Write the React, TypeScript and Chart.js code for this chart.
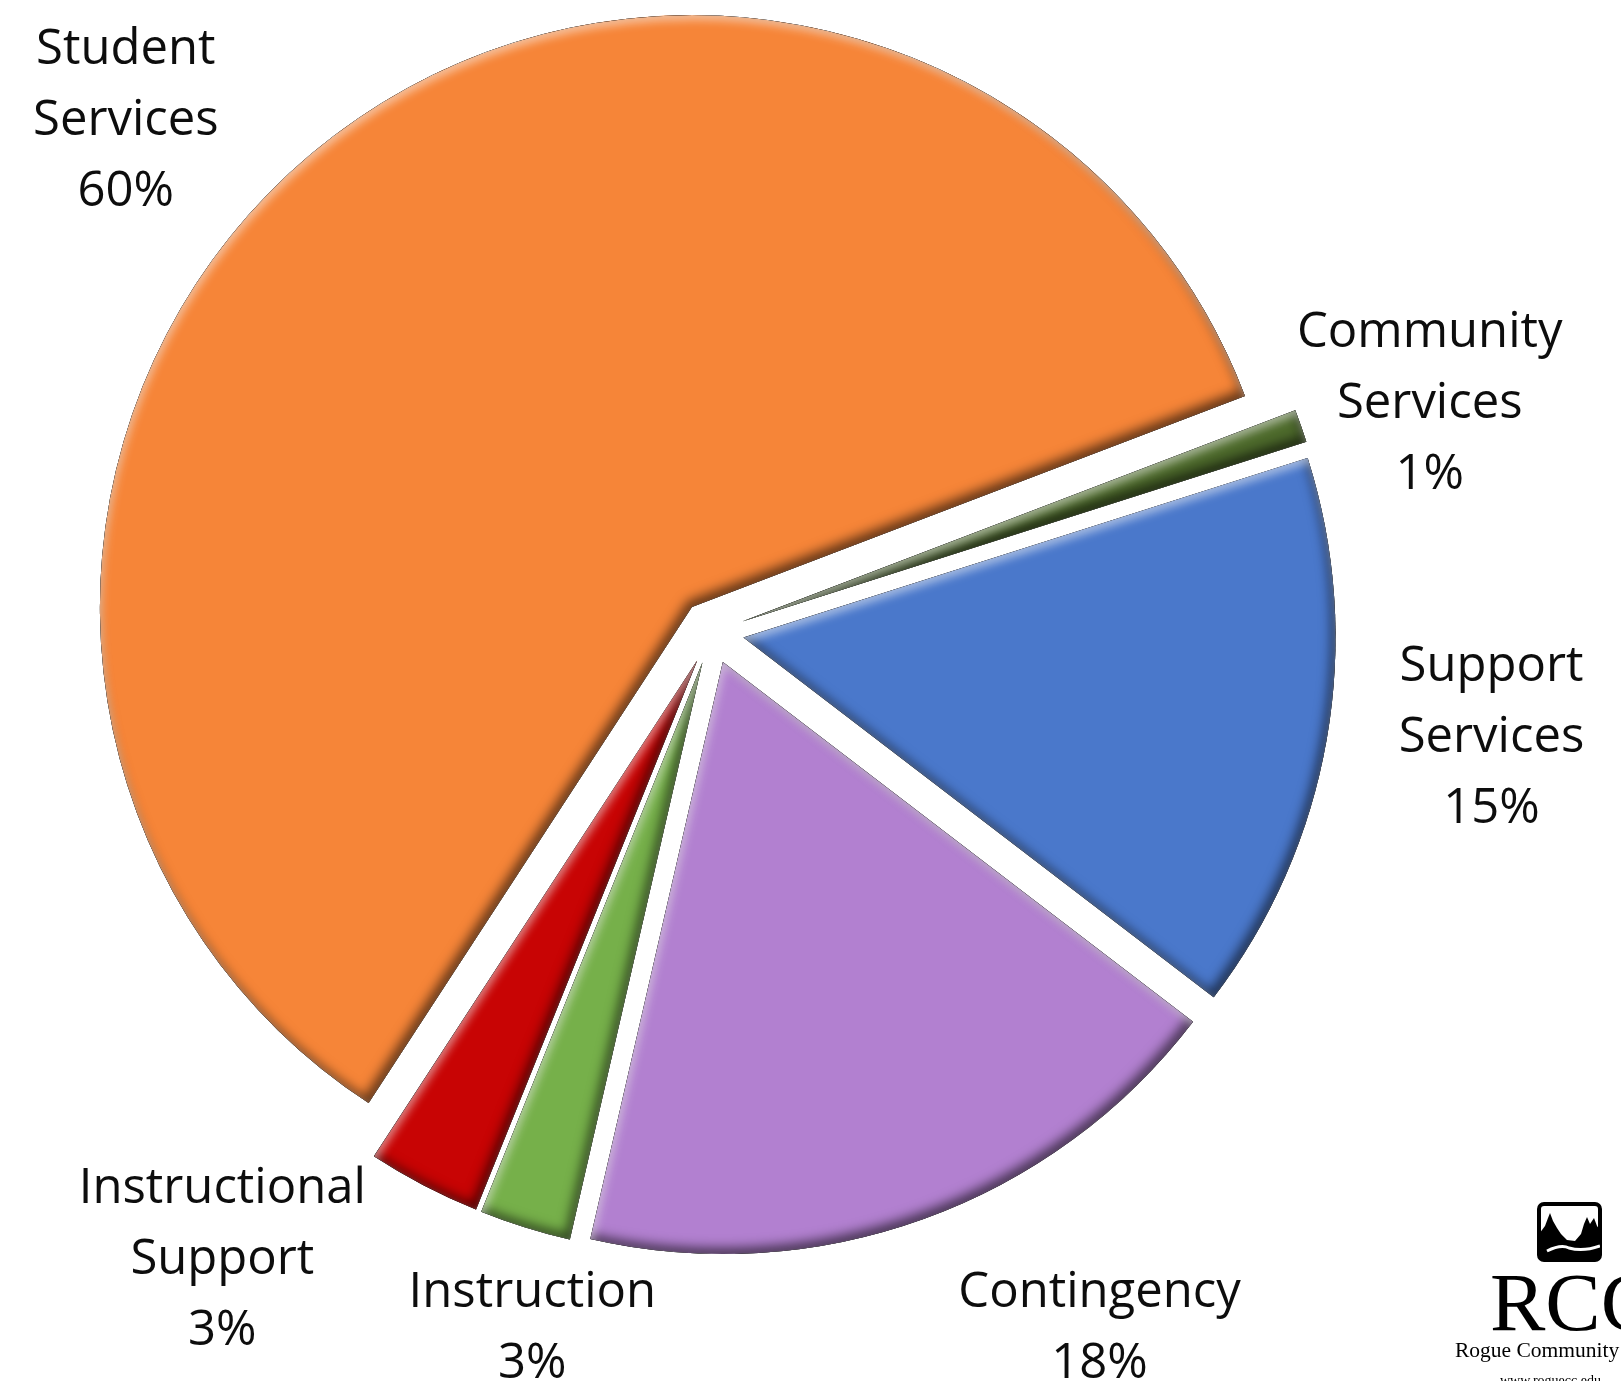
import React, { useEffect, useRef } from "react";
import { Chart, registerables } from "chart.js";

Chart.register(...registerables);

// ---- data ----
const categories = [
  "Student Services",
  "Community Services",
  "Support Services",
  "Contingency",
  "Instruction",
  "Instructional Support",
];
const labelLines = [
  ["Student", "Services"],
  ["Community", "Services"],
  ["Support", "Services"],
  ["Contingency"],
  ["Instruction"],
  ["Instructional", "Support"],
];
const shares = [60.0, 0.9, 15.3, 18.2, 2.5, 3.1];
const sliceColors = ["#F68538", "#4E6B2C", "#4A78CB", "#B280D0", "#76B04A", "#C80404"];

// label placement relative to each slice's bisector (degrees shift, radius ratio)
const labelAngleShift = [-9.8, 1.4, -2.4, -9.4, -2.9, 10.6];
const labelRadiusRatio = [1.318, 1.274, 1.328, 1.341, 1.209, 1.34];

const EXPLODE = 32;
const RADIUS = 592;
const FONT = '49px "Open Sans", "DejaVu Sans", sans-serif';
const LINE_H = 71;

function arcPath(ctx: CanvasRenderingContext2D, a: any) {
  ctx.moveTo(a.x, a.y);
  ctx.arc(a.x, a.y, a.outerRadius, a.startAngle, a.endAngle);
  ctx.closePath();
}

function innerShadow(
  ctx: CanvasRenderingContext2D,
  a: any,
  color: string,
  blur: number,
  dx: number,
  dy: number
) {
  ctx.save();
  ctx.beginPath();
  arcPath(ctx, a);
  ctx.clip();
  ctx.beginPath();
  ctx.rect(a.x - 3000, a.y - 3000, 6000, 6000);
  arcPath(ctx, a);
  ctx.shadowColor = color;
  ctx.shadowBlur = blur;
  ctx.shadowOffsetX = dx;
  ctx.shadowOffsetY = dy;
  ctx.fillStyle = "#000";
  ctx.fill("evenodd");
  ctx.restore();
}

const explodePlugin = {
  id: "explodeSlices",
  afterUpdate(chart: any) {
    const meta = chart.getDatasetMeta(0);
    meta.data.forEach((arc: any) => {
      const mid = (arc.startAngle + arc.endAngle) / 2;
      arc.x += Math.cos(mid) * EXPLODE;
      arc.y += Math.sin(mid) * EXPLODE;
    });
  },
};

const bevelPlugin = {
  id: "bevel",
  afterDatasetsDraw(chart: any) {
    const ctx = chart.ctx as CanvasRenderingContext2D;
    const meta = chart.getDatasetMeta(0);
    meta.data.forEach((arc: any) => {
      innerShadow(ctx, arc, "rgba(0,0,0,0.6)", 12, -4, -6);
      innerShadow(ctx, arc, "rgba(255,255,255,0.5)", 8, 2, 5);
    });
  },
};

const labelPlugin = {
  id: "sliceLabels",
  afterDraw(chart: any) {
    const ctx = chart.ctx as CanvasRenderingContext2D;
    const meta = chart.getDatasetMeta(0);
    const ca = chart.chartArea;
    const cx = (ca.left + ca.right) / 2;
    const cy = (ca.top + ca.bottom) / 2;
    const total = shares.reduce((s, v) => s + v, 0);
    ctx.save();
    ctx.font = FONT;
    ctx.fillStyle = "#0d0d0d";
    ctx.textAlign = "center";
    ctx.textBaseline = "alphabetic";
    meta.data.forEach((arc: any, i: number) => {
      const mid = (arc.startAngle + arc.endAngle) / 2 + (labelAngleShift[i] * Math.PI) / 180;
      const r = arc.outerRadius * labelRadiusRatio[i];
      const x = cx + Math.cos(mid) * r;
      const y = cy + Math.sin(mid) * r;
      const lines = [...labelLines[i], Math.round((shares[i] / total) * 100) + "%"];
      const y0 = y - ((lines.length - 1) / 2) * LINE_H;
      lines.forEach((t, k) => {
        ctx.fillText(t, x, y0 + k * LINE_H + 17.5);
      });
    });
    ctx.restore();

    // RCC logo
    ctx.save();
    const bx = 1539, by = 1204, bw = 61, bh = 56;
    ctx.lineWidth = 4;
    ctx.strokeStyle = "#000";
    ctx.beginPath();
    ctx.roundRect(bx, by, bw, bh, 5);
    ctx.stroke();
    ctx.save();
    ctx.beginPath();
    ctx.roundRect(bx, by, bw, bh, 5);
    ctx.clip();
    ctx.fillStyle = "#000";
    ctx.beginPath();
    ctx.moveTo(bx, by + bh);
    ctx.lineTo(bx, by + 30);
    ctx.lineTo(bx + 6, by + 22);
    ctx.lineTo(bx + 9, by + 14);
    ctx.lineTo(bx + 11, by + 9);
    ctx.lineTo(bx + 14, by + 17);
    ctx.lineTo(bx + 18, by + 24);
    ctx.lineTo(bx + 22, by + 30);
    ctx.lineTo(bx + 28, by + 36);
    ctx.lineTo(bx + 36, by + 37);
    ctx.lineTo(bx + 42, by + 30);
    ctx.lineTo(bx + 45, by + 20);
    ctx.lineTo(bx + 48, by + 13);
    ctx.lineTo(bx + 51, by + 20);
    ctx.lineTo(bx + 55, by + 14);
    ctx.lineTo(bx + 58, by + 22);
    ctx.lineTo(bx + bw, by + 26);
    ctx.lineTo(bx + bw, by + bh);
    ctx.closePath();
    ctx.fill();
    ctx.strokeStyle = "#fff";
    ctx.lineWidth = 3;
    ctx.beginPath();
    ctx.moveTo(bx + 8, by + 47);
    ctx.quadraticCurveTo(bx + 22, by + 40, bx + 30, by + 44);
    ctx.quadraticCurveTo(bx + 44, by + 48, bx + bw, by + 42);
    ctx.stroke();
    ctx.restore();

    ctx.fillStyle = "#000";
    ctx.textAlign = "left";
    ctx.textBaseline = "alphabetic";
    ctx.font = '83px "Liberation Serif", "DejaVu Serif", serif';
    ctx.fillText("RCC", 1490, 1330);
    ctx.font = '21.5px "Liberation Serif", "DejaVu Serif", serif';
    ctx.fillText("Rogue Community College", 1455, 1357);
    ctx.font = '14px "Liberation Serif", "DejaVu Serif", serif';
    ctx.fillText("www.roguecc.edu", 1500, 1385);
    ctx.restore();
  },
};

export default function App() {
  const ref = useRef<HTMLCanvasElement | null>(null);
  useEffect(() => {
    if (!ref.current) return;
    const chart = new Chart(ref.current, {
      type: "pie",
      data: {
        labels: categories,
        datasets: [
          {
            data: shares,
            backgroundColor: sliceColors,
            borderWidth: 0,
          },
        ],
      },
      options: {
        responsive: false,
        animation: false,
        events: [],
        rotation: 213.1,
        radius: RADIUS,
        layout: { padding: { left: 0, top: 0, right: 197, bottom: 117 } },
        plugins: {
          legend: { display: false },
          tooltip: { enabled: false },
          title: { display: false },
        },
      } as any,
      plugins: [explodePlugin, bevelPlugin, labelPlugin],
    });
    return () => chart.destroy();
  }, []);
  return (
    <div
      style={{
        position: "fixed",
        left: 0,
        top: 0,
        width: 1621,
        height: 1381,
        overflow: "hidden",
        background: "#fff",
      }}
    >
      <canvas ref={ref} width={1621} height={1381} style={{ display: "block" }} />
    </div>
  );
}
